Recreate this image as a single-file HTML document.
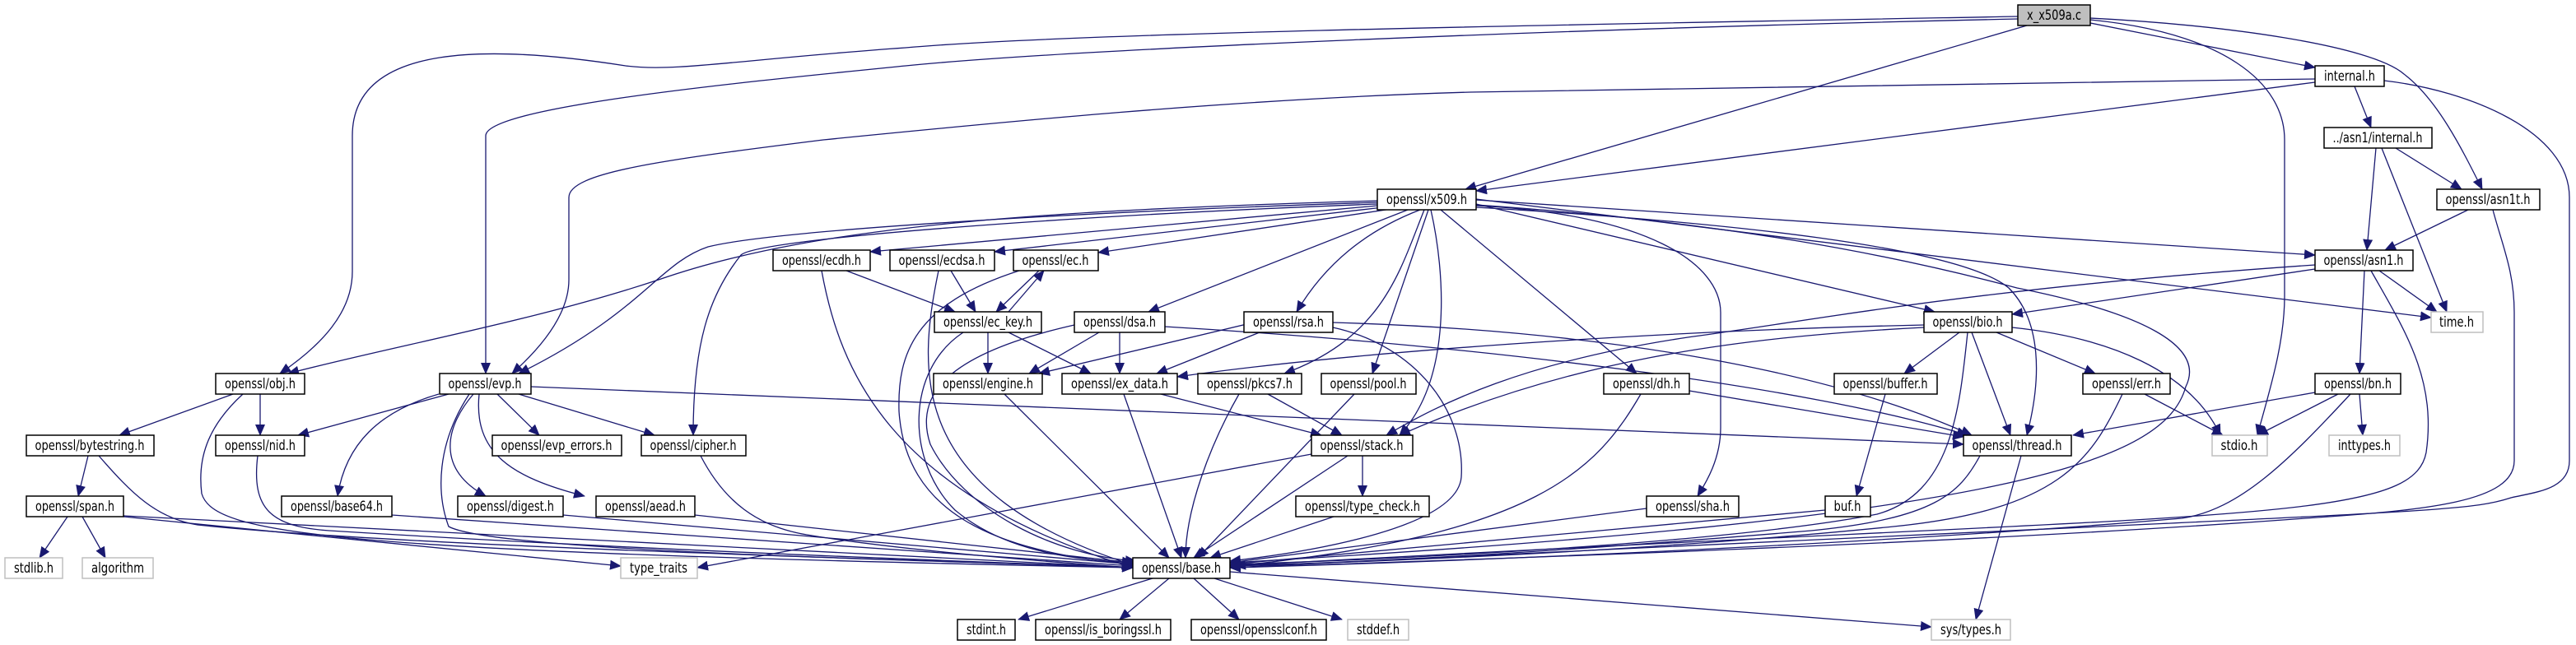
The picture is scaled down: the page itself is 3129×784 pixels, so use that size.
<!DOCTYPE html>
<html><head><meta charset="utf-8"><style>
html,body{margin:0;padding:0;background:#fff;width:3129px;height:784px;overflow:hidden}
svg text{font-family:"DejaVu Sans","Liberation Sans",sans-serif;font-size:17px;fill:#000}
</style></head><body>
<svg width="3129" height="784" viewBox="0 0 3129 784" xmlns="http://www.w3.org/2000/svg">
<defs><marker id="a" markerUnits="userSpaceOnUse" markerWidth="14" markerHeight="12" refX="13" refY="6" orient="auto"><path d="M0,0 L14,6 L0,12 z" fill="#191970"/></marker></defs>
<g fill="none" stroke="#191970" stroke-width="1.3" marker-end="url(#a)">
<!-- x_x509a.c -->
<path d="M2451,20 C1900,30 1300,40 1100,58 C900,72 820,88 760,80 C600,55 428,50 428,165 L428,330 C428,380 390,420 340,454"/>
<path d="M2451,23 C1900,35 1300,60 1100,80 C900,100 590,130 590,165 L590,454"/>
<path d="M2462,31 L1780,230"/>
<path d="M2539,28 L2812,82"/>
<path d="M2539,24 C2700,40 2775,100 2775,170 L2775,360 C2775,420 2755,480 2742,529"/>
<path d="M2539,22 C2700,30 2880,55 2920,90 C2960,120 2990,180 3015,230"/>
<!-- internal.h -->
<path d="M2812,96 C2500,100 2200,104 1786,112 C1500,120 1200,150 1000,170 C800,195 691,210 691,240 L691,340 C691,380 660,420 622,454"/>
<path d="M2812,100 L1793,232"/>
<path d="M2860,105 L2880,155"/>
<path d="M2896,98 C3000,110 3121,160 3121,240 L3121,560 C3121,595 3080,598 3050,605 C2990,625 2930,620 1494,690"/>
<!-- ../asn1/internal.h -->
<path d="M2886,180 L2875,304"/>
<path d="M2893,180 L2972,379"/>
<path d="M2910,180 L2990,230"/>
<!-- asn1t.h -->
<path d="M2998,255 L2897,304"/>
<path d="M3028,255 C3040,300 3054,330 3054,380 L3054,560 C3054,610 2950,620 2800,630 C2400,660 1800,680 1494,690"/>
<!-- asn1.h -->
<path d="M2890,329 L2960,379"/>
<path d="M2812,327 L2444,382"/>
<path d="M2812,322 C2400,350 2200,390 2050,410 C1850,440 1750,490 1684,529"/>
<path d="M2872,329 L2866,454"/>
<path d="M2880,329 C2920,400 2960,460 2947,550 C2930,640 2700,620 1494,688"/>
<!-- x509.h -->
<path d="M1673,244 C1300,255 1000,270 800,340 C650,390 480,420 350,454"/>
<path d="M1673,246 C1300,258 940,280 860,300 C800,320 780,380 630,454"/>
<path d="M1673,248 C1300,262 920,290 900,310 C860,360 842,420 842,529"/>
<path d="M1673,250 L1057,306"/>
<path d="M1680,252 L1208,306"/>
<path d="M1690,254 L1334,307"/>
<path d="M1710,255 L1395,379"/>
<path d="M1725,255 C1660,280 1610,320 1575,379"/>
<path d="M1730,255 C1700,330 1680,410 1560,454"/>
<path d="M1735,255 L1667,454"/>
<path d="M1738,255 C1755,330 1765,460 1700,529"/>
<path d="M1750,255 L1988,454"/>
<path d="M1793,250 C2000,260 2090,320 2090,380 L2090,520 C2090,560 2070,590 2062,603"/>
<path d="M1793,243 L2812,310"/>
<path d="M1793,248 L2350,379"/>
<path d="M1793,252 C2100,270 2380,300 2440,350 C2480,390 2480,460 2462,529"/>
<path d="M1793,249 C2100,270 2300,310 2450,350 C2600,380 2680,420 2655,470 C2630,560 2450,630 1494,684"/>
<path d="M1793,242 L2953,386"/>
<!-- ecdh / ecdsa / ec -->
<path d="M1028,329 L1160,379"/>
<path d="M998,329 C1020,450 1080,600 1376,690"/>
<path d="M1155,329 L1185,379"/>
<path d="M1140,329 C1115,450 1100,600 1380,688"/>
<path d="M1262,329 L1210,379"/>
<path d="M1225,379 L1268,329"/>
<path d="M1238,329 C1110,370 1090,430 1092,500 C1100,620 1200,670 1376,686"/>
<!-- ec_key -->
<path d="M1200,404 L1200,454"/>
<path d="M1225,404 L1325,454"/>
<path d="M1170,404 C1100,450 1100,560 1160,620 C1220,670 1300,680 1376,684"/>
<!-- dsa -->
<path d="M1335,404 L1250,454"/>
<path d="M1360,404 L1360,454"/>
<path d="M1415,397 C1800,420 2200,470 2390,529"/>
<path d="M1305,395 C1150,430 1110,480 1130,540 C1170,620 1280,675 1380,682"/>
<!-- rsa -->
<path d="M1527,391 L1262,454"/>
<path d="M1530,404 L1405,454"/>
<path d="M1619,392 C1900,400 2200,440 2395,529"/>
<path d="M1619,398 C1720,420 1780,500 1775,580 C1770,640 1600,670 1494,682"/>
<!-- bio -->
<path d="M2380,404 L2313,454"/>
<path d="M2425,404 L2545,454"/>
<path d="M2395,404 L2442,529"/>
<path d="M2444,398 C2560,410 2660,450 2697,529"/>
<path d="M2337,395 C2100,400 1700,420 1430,458"/>
<path d="M2337,398 C2100,410 1900,440 1700,529"/>
<path d="M2390,404 C2380,500 2370,600 2280,625 C2100,660 1700,680 1494,686"/>
<!-- buffer / err / bn / dh -->
<path d="M2290,479 L2255,603"/>
<path d="M2605,479 L2700,529"/>
<path d="M2578,479 C2540,560 2500,620 2300,640 C2000,670 1700,682 1494,688"/>
<path d="M2812,477 L2518,529"/>
<path d="M2840,479 L2742,529"/>
<path d="M2866,479 L2870,529"/>
<path d="M2855,479 C2780,560 2720,620 2650,630 C2300,660 1800,682 1494,690"/>
<path d="M2052,475 L2385,531"/>
<path d="M1993,479 C1940,570 1870,650 1500,688"/>
<!-- evp.h -->
<path d="M545,479 L362,529"/>
<path d="M533,479 C460,500 420,540 410,603"/>
<path d="M575,479 C540,520 530,570 590,603"/>
<path d="M582,479 C575,550 620,580 710,603"/>
<path d="M604,479 L655,529"/>
<path d="M630,479 L795,529"/>
<path d="M645,470 L2385,540"/>
<path d="M570,479 C530,540 530,600 545,640 C600,670 1100,680 1376,690"/>
<!-- obj.h -->
<path d="M283,479 L145,529"/>
<path d="M316,479 L316,529"/>
<path d="M295,479 C250,520 240,560 245,600 C260,650 400,670 1376,690"/>
<!-- bytestring / span / nid / cipher -->
<path d="M107,554 L95,603"/>
<path d="M120,554 C160,600 190,630 240,638 C500,665 1100,680 1376,690"/>
<path d="M82,628 L48,678"/>
<path d="M100,628 L128,678"/>
<path d="M150,628 L754,688"/>
<path d="M150,627 L1376,690"/>
<path d="M313,554 C305,620 330,640 400,645 C800,670 1200,683 1376,690"/>
<path d="M851,554 C880,610 920,640 980,650 C1100,670 1300,685 1376,690"/>
<path d="M476,626 L1376,688"/>
<path d="M684,626 L1376,686"/>
<path d="M844,626 L1376,684"/>
<!-- stack etc -->
<path d="M1593,552 L847,690"/>
<path d="M1655,554 L1655,603"/>
<path d="M1637,554 L1450,678"/>
<path d="M1620,628 L1470,678"/>
<path d="M1220,479 L1420,678"/>
<path d="M1365,479 L1435,678"/>
<path d="M1410,479 L1605,529"/>
<path d="M1540,479 L1630,529"/>
<path d="M1505,479 C1470,540 1440,620 1440,678"/>
<path d="M1645,479 L1455,678"/>
<path d="M2000,618 L1494,684"/>
<path d="M2217,620 L1494,686"/>
<path d="M2405,554 C2380,600 2350,630 2200,645 C1900,670 1700,682 1494,688"/>
<path d="M2455,554 L2400,753"/>
<!-- base.h -->
<path d="M1400,703 L1237,753"/>
<path d="M1420,703 L1360,753"/>
<path d="M1450,703 L1505,753"/>
<path d="M1475,703 L1630,753"/>
<path d="M1494,695 L2346,762"/>
</g>
<g stroke-width="1.5">
<g stroke="#000" fill="#fff">
<rect x="2451" y="6" width="88" height="25" fill="#bfbfbf"/>
<rect x="2812" y="80" width="84" height="25"/>
<rect x="2823" y="155" width="131" height="25"/>
<rect x="1673" y="230" width="120" height="25"/>
<rect x="2960" y="230" width="125" height="25"/>
<rect x="939" y="304" width="118" height="25"/>
<rect x="1081" y="304" width="127" height="25"/>
<rect x="1231" y="304" width="103" height="25"/>
<rect x="2812" y="304" width="119" height="25"/>
<rect x="1135" y="379" width="130" height="25"/>
<rect x="1305" y="379" width="110" height="25"/>
<rect x="1511" y="379" width="108" height="25"/>
<rect x="2337" y="379" width="107" height="25"/>
<rect x="262" y="454" width="108" height="25"/>
<rect x="534" y="454" width="111" height="25"/>
<rect x="1134" y="454" width="132" height="25"/>
<rect x="1290" y="454" width="140" height="25"/>
<rect x="1455" y="454" width="126" height="25"/>
<rect x="1605" y="454" width="115" height="25"/>
<rect x="1948" y="454" width="104" height="25"/>
<rect x="2228" y="454" width="125" height="25"/>
<rect x="2530" y="454" width="106" height="25"/>
<rect x="2812" y="454" width="104" height="25"/>
<rect x="32" y="529" width="155" height="25"/>
<rect x="262" y="529" width="108" height="25"/>
<rect x="598" y="529" width="157" height="25"/>
<rect x="779" y="529" width="127" height="25"/>
<rect x="1593" y="529" width="123" height="25"/>
<rect x="2385" y="529" width="131" height="25"/>
<rect x="32" y="603" width="118" height="25"/>
<rect x="342" y="603" width="134" height="25"/>
<rect x="556" y="603" width="128" height="25"/>
<rect x="724" y="603" width="120" height="25"/>
<rect x="1574" y="603" width="162" height="25"/>
<rect x="2000" y="603" width="112" height="25"/>
<rect x="2217" y="603" width="55" height="25"/>
<rect x="1376" y="678" width="118" height="25"/>
<rect x="1163" y="753" width="70" height="25"/>
<rect x="1258" y="753" width="164" height="25"/>
<rect x="1447" y="753" width="164" height="25"/>
</g>
<g stroke="#bfbfbf" fill="#fff">
<rect x="2953" y="379" width="63" height="25"/>
<rect x="2687" y="529" width="67" height="25"/>
<rect x="2829" y="529" width="86" height="25"/>
<rect x="6" y="678" width="70" height="25"/>
<rect x="100" y="678" width="86" height="25"/>
<rect x="754" y="678" width="93" height="25"/>
<rect x="1637" y="753" width="74" height="25"/>
<rect x="2346" y="753" width="96" height="25"/>
</g>
</g>
<g text-anchor="middle" lengthAdjust="spacingAndGlyphs">
<text x="2495" y="24" textLength="66" lengthAdjust="spacingAndGlyphs">x_x509a.c</text>
<text x="2854" y="98" textLength="62" lengthAdjust="spacingAndGlyphs">internal.h</text>
<text x="2888" y="173" textLength="109" lengthAdjust="spacingAndGlyphs">../asn1/internal.h</text>
<text x="1733" y="248" textLength="98" lengthAdjust="spacingAndGlyphs">openssl/x509.h</text>
<text x="3022" y="248" textLength="103" lengthAdjust="spacingAndGlyphs">openssl/asn1t.h</text>
<text x="998" y="322" textLength="96" lengthAdjust="spacingAndGlyphs">openssl/ecdh.h</text>
<text x="1144" y="322" textLength="105" lengthAdjust="spacingAndGlyphs">openssl/ecdsa.h</text>
<text x="1282" y="322" textLength="81" lengthAdjust="spacingAndGlyphs">openssl/ec.h</text>
<text x="2871" y="322" textLength="97" lengthAdjust="spacingAndGlyphs">openssl/asn1.h</text>
<text x="1200" y="397" textLength="108" lengthAdjust="spacingAndGlyphs">openssl/ec_key.h</text>
<text x="1360" y="397" textLength="88" lengthAdjust="spacingAndGlyphs">openssl/dsa.h</text>
<text x="1565" y="397" textLength="86" lengthAdjust="spacingAndGlyphs">openssl/rsa.h</text>
<text x="2390" y="397" textLength="85" lengthAdjust="spacingAndGlyphs">openssl/bio.h</text>
<text x="2984" y="397" textLength="42" lengthAdjust="spacingAndGlyphs">time.h</text>
<text x="316" y="472" textLength="86" lengthAdjust="spacingAndGlyphs">openssl/obj.h</text>
<text x="589" y="472" textLength="89" lengthAdjust="spacingAndGlyphs">openssl/evp.h</text>
<text x="1200" y="472" textLength="110" lengthAdjust="spacingAndGlyphs">openssl/engine.h</text>
<text x="1360" y="472" textLength="118" lengthAdjust="spacingAndGlyphs">openssl/ex_data.h</text>
<text x="1518" y="472" textLength="104" lengthAdjust="spacingAndGlyphs">openssl/pkcs7.h</text>
<text x="1662" y="472" textLength="93" lengthAdjust="spacingAndGlyphs">openssl/pool.h</text>
<text x="2000" y="472" textLength="82" lengthAdjust="spacingAndGlyphs">openssl/dh.h</text>
<text x="2290" y="472" textLength="103" lengthAdjust="spacingAndGlyphs">openssl/buffer.h</text>
<text x="2583" y="472" textLength="84" lengthAdjust="spacingAndGlyphs">openssl/err.h</text>
<text x="2864" y="472" textLength="82" lengthAdjust="spacingAndGlyphs">openssl/bn.h</text>
<text x="109" y="547" textLength="133" lengthAdjust="spacingAndGlyphs">openssl/bytestring.h</text>
<text x="316" y="547" textLength="86" lengthAdjust="spacingAndGlyphs">openssl/nid.h</text>
<text x="676" y="547" textLength="135" lengthAdjust="spacingAndGlyphs">openssl/evp_errors.h</text>
<text x="842" y="547" textLength="105" lengthAdjust="spacingAndGlyphs">openssl/cipher.h</text>
<text x="1654" y="547" textLength="101" lengthAdjust="spacingAndGlyphs">openssl/stack.h</text>
<text x="2450" y="547" textLength="109" lengthAdjust="spacingAndGlyphs">openssl/thread.h</text>
<text x="2720" y="547" textLength="45" lengthAdjust="spacingAndGlyphs">stdio.h</text>
<text x="2872" y="547" textLength="64" lengthAdjust="spacingAndGlyphs">inttypes.h</text>
<text x="91" y="621" textLength="96" lengthAdjust="spacingAndGlyphs">openssl/span.h</text>
<text x="409" y="621" textLength="112" lengthAdjust="spacingAndGlyphs">openssl/base64.h</text>
<text x="620" y="621" textLength="106" lengthAdjust="spacingAndGlyphs">openssl/digest.h</text>
<text x="784" y="621" textLength="98" lengthAdjust="spacingAndGlyphs">openssl/aead.h</text>
<text x="1655" y="621" textLength="140" lengthAdjust="spacingAndGlyphs">openssl/type_check.h</text>
<text x="2056" y="621" textLength="90" lengthAdjust="spacingAndGlyphs">openssl/sha.h</text>
<text x="2244" y="621" textLength="33" lengthAdjust="spacingAndGlyphs">buf.h</text>
<text x="41" y="696" textLength="48" lengthAdjust="spacingAndGlyphs">stdlib.h</text>
<text x="143" y="696" textLength="64" lengthAdjust="spacingAndGlyphs">algorithm</text>
<text x="800" y="696" textLength="70" lengthAdjust="spacingAndGlyphs">type_traits</text>
<text x="1435" y="696" textLength="96" lengthAdjust="spacingAndGlyphs">openssl/base.h</text>
<text x="1198" y="771" textLength="48" lengthAdjust="spacingAndGlyphs">stdint.h</text>
<text x="1340" y="771" textLength="142" lengthAdjust="spacingAndGlyphs">openssl/is_boringssl.h</text>
<text x="1529" y="771" textLength="142" lengthAdjust="spacingAndGlyphs">openssl/opensslconf.h</text>
<text x="1674" y="771" textLength="52" lengthAdjust="spacingAndGlyphs">stddef.h</text>
<text x="2394" y="771" textLength="74" lengthAdjust="spacingAndGlyphs">sys/types.h</text>
</g>
</svg>
</body></html>
